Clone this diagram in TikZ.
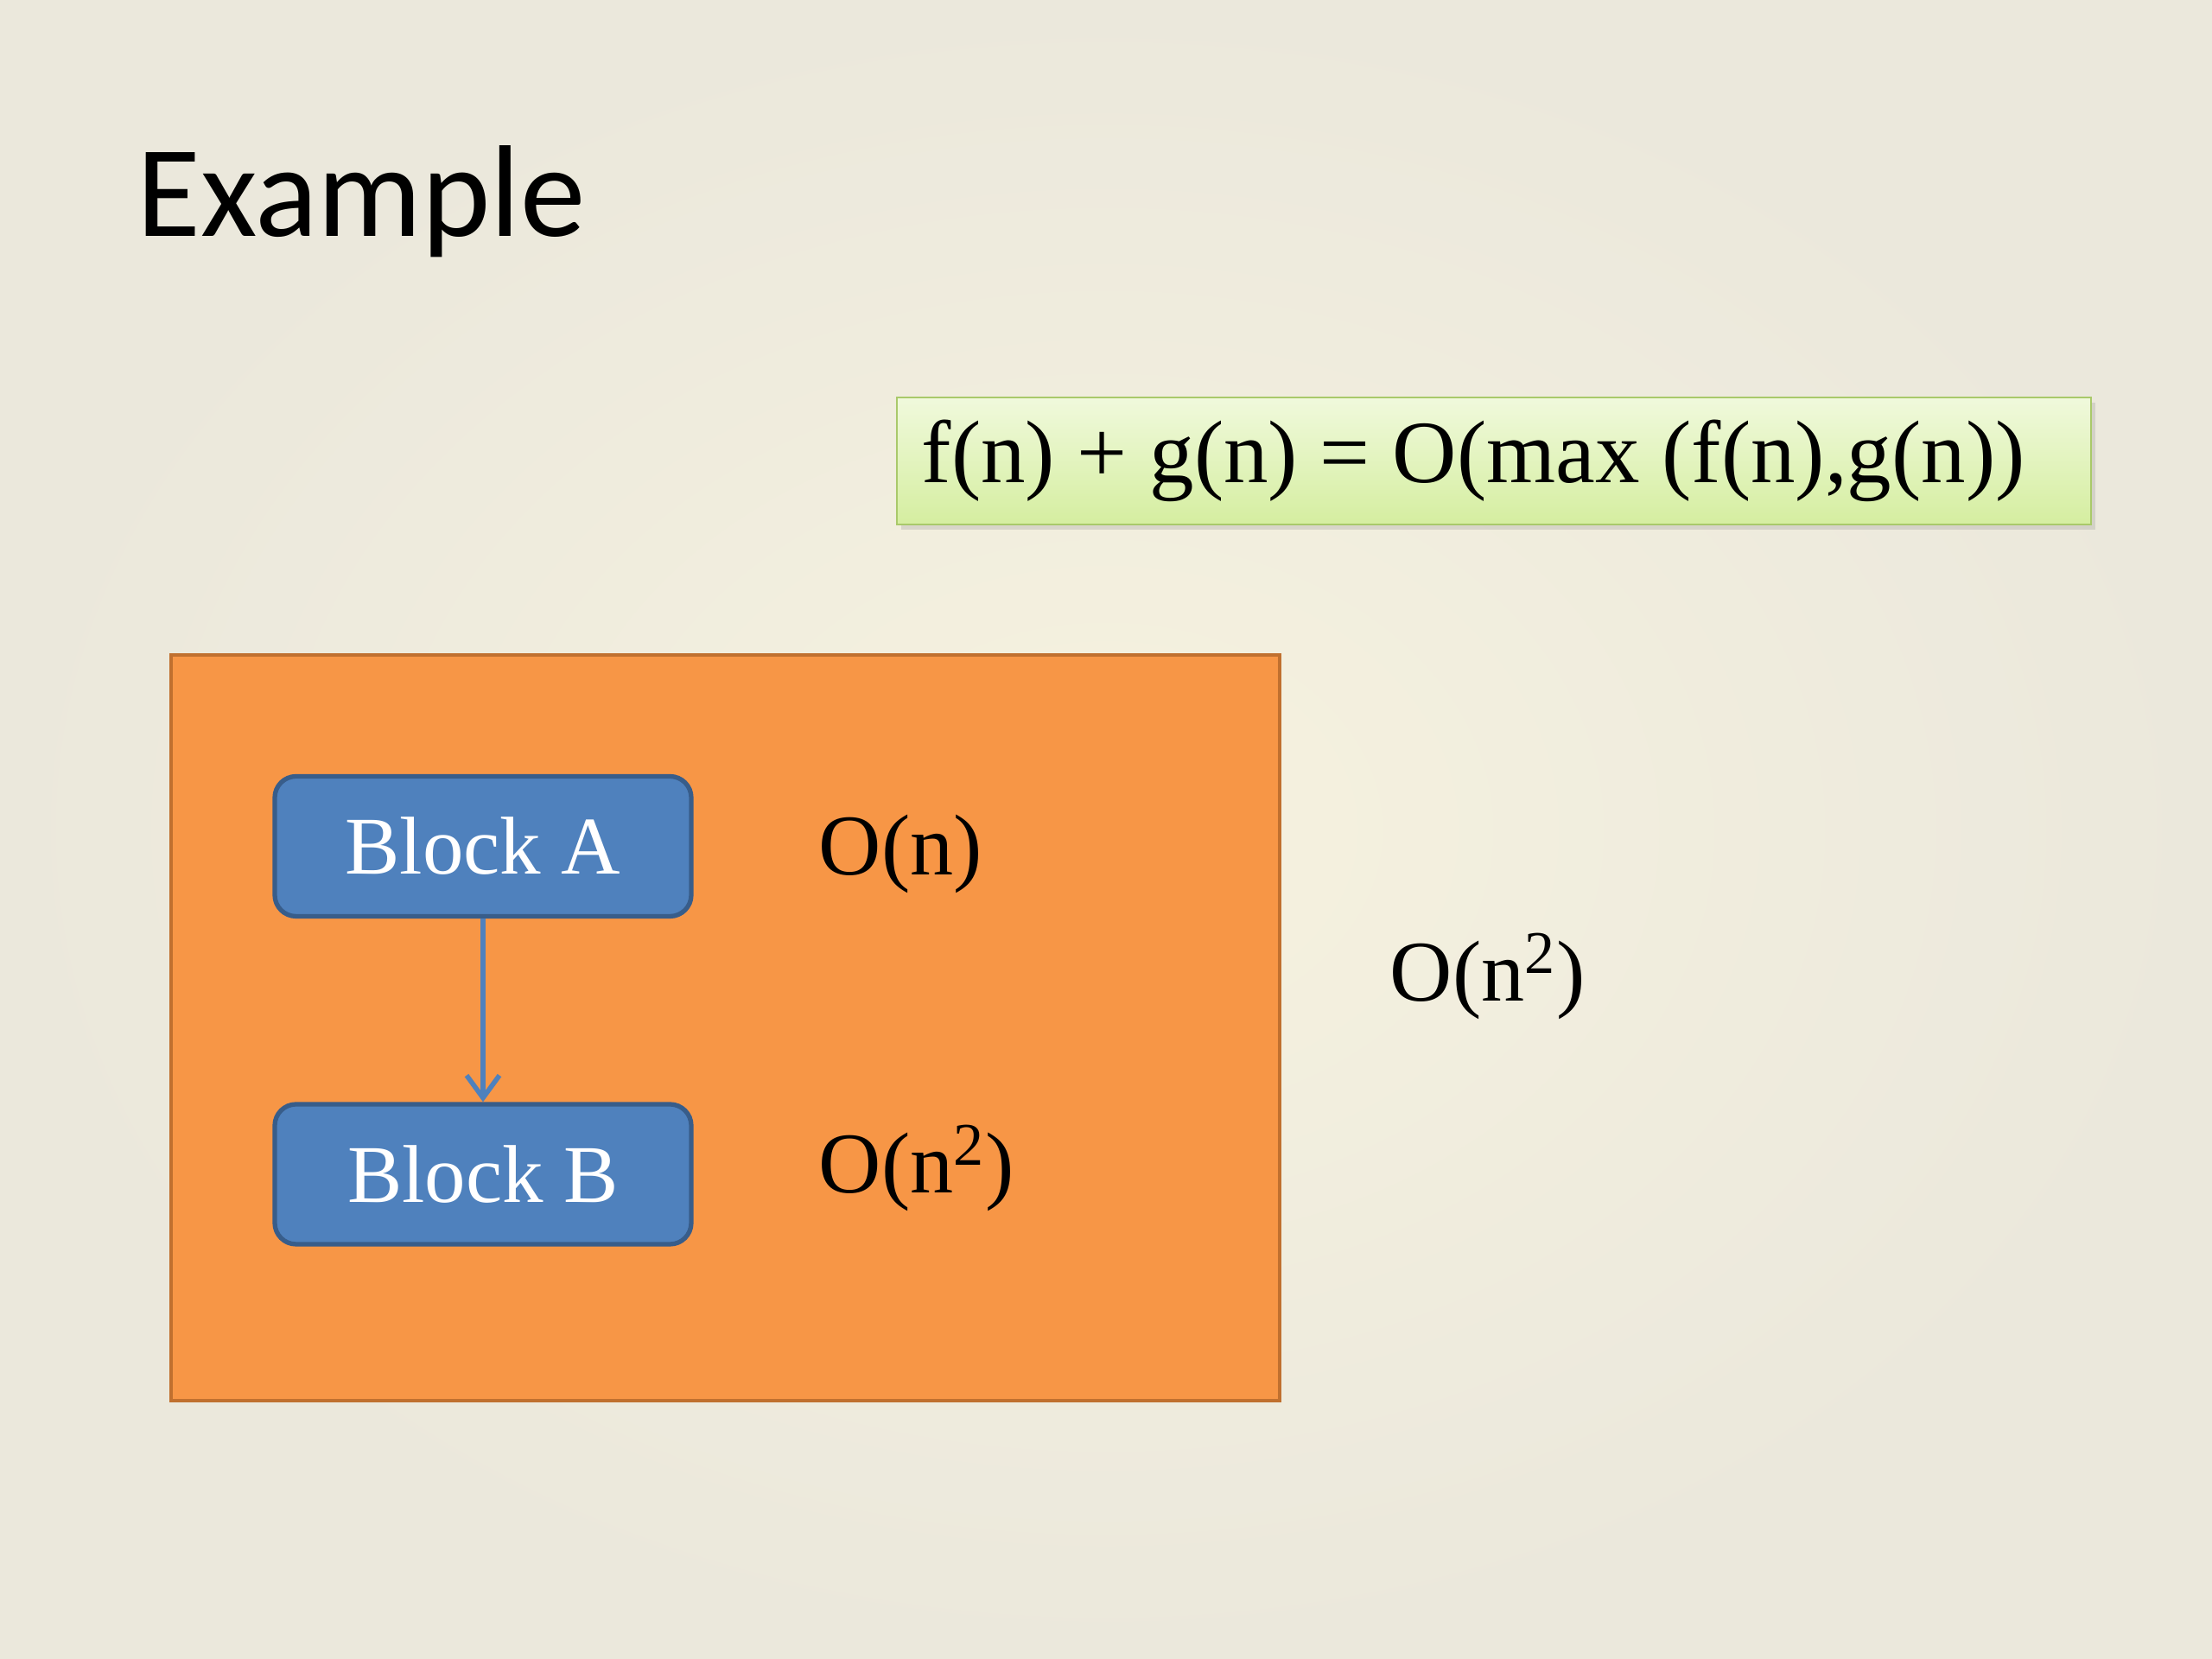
\documentclass[tikz,border=0pt]{standalone}
\usepackage{fontspec}
\setmainfont{Liberation Serif}
\newfontfamily\titlefont{Carlito}
\usepackage{xcolor}
\usepackage{tikz}
\usetikzlibrary{arrows.meta,positioning,shadows}
\definecolor{slidebg}{HTML}{F6F2DF}
\definecolor{slideedge}{HTML}{EBE8DC}
\definecolor{orangefill}{HTML}{F79646}
\definecolor{orangeline}{HTML}{C0702F}
\definecolor{bluefill}{HTML}{4F81BD}
\definecolor{blueline}{HTML}{385D8A}
\definecolor{greentop}{HTML}{F0F9DC}
\definecolor{greenbot}{HTML}{D5EEA0}
\definecolor{greenline}{HTML}{A9C96A}
\tikzset{
  loopbox/.style={rectangle, draw=orangeline, fill=orangefill, line width=1.2pt,
    minimum width=12.83cm, minimum height=8.63cm, inner sep=0pt},
  blockbox/.style={rectangle, draw=blueline, fill=bluefill, line width=1.5pt,
    rounded corners=7pt, minimum width=4.82cm, minimum height=1.62cm,
    align=center, text=white, font=\fontsize{27}{32}\selectfont, inner sep=0pt},
  rulebox/.style={rectangle, draw=greenline, top color=greentop, bottom color=greenbot,
    line width=0.8pt, minimum width=13.82cm, minimum height=1.47cm, inner sep=0pt,
    drop shadow={opacity=0.22, shadow xshift=0.05cm, shadow yshift=-0.06cm}},
}

\begin{document}
\begin{tikzpicture}[
    costlab/.style={anchor=west, inner sep=0pt, font=\fontsize{28.5}{34}\selectfont},
    flowarrow/.style={-{Straight Barb[length=2.6mm,width=3.8mm]}, draw=bluefill,
      line width=1.6pt}
  ]

  % ============ Slide background ============
  \shade[inner color=slidebg, outer color=slideedge] (0,0) rectangle (25.6,19.2);
  \useasboundingbox (0,0) rectangle (25.6,19.2);

  % ============ Title ============
  \node[anchor=base west, inner sep=0pt, font=\titlefont\fontsize{43}{50}\selectfont]
    (title) at (1.58,16.46) {Example};

  % ============ Rule of sums ============
  \node[rulebox] (rule) at (17.29,13.865) {};
  \node[anchor=west, inner sep=0pt, font=\fontsize{29.3}{35}\selectfont]
    (ruletext) at (10.66,13.865) {f(n) + g(n) = O(max (f(n),g(n))};

  % ============ Sequential blocks ============
  \node[loopbox] (loop) at (8.395,7.305) {};
  \node[blockbox] (blocka) at (5.59,9.405) {Block A};
  \node[blockbox] (blockb) at (5.59,5.61)  {Block B};

  \node[costlab] (costa)   at (9.47,9.32) {O(n)};
  \node[costlab] (costb)   at (9.47,5.68) {O(n\textsuperscript{2})};
  \node[costlab] (costall) at (16.08,7.90) {O(n\textsuperscript{2})};

  % A then B
  \draw[flowarrow] (blocka) -- (blockb);

\end{tikzpicture}
\end{document}
